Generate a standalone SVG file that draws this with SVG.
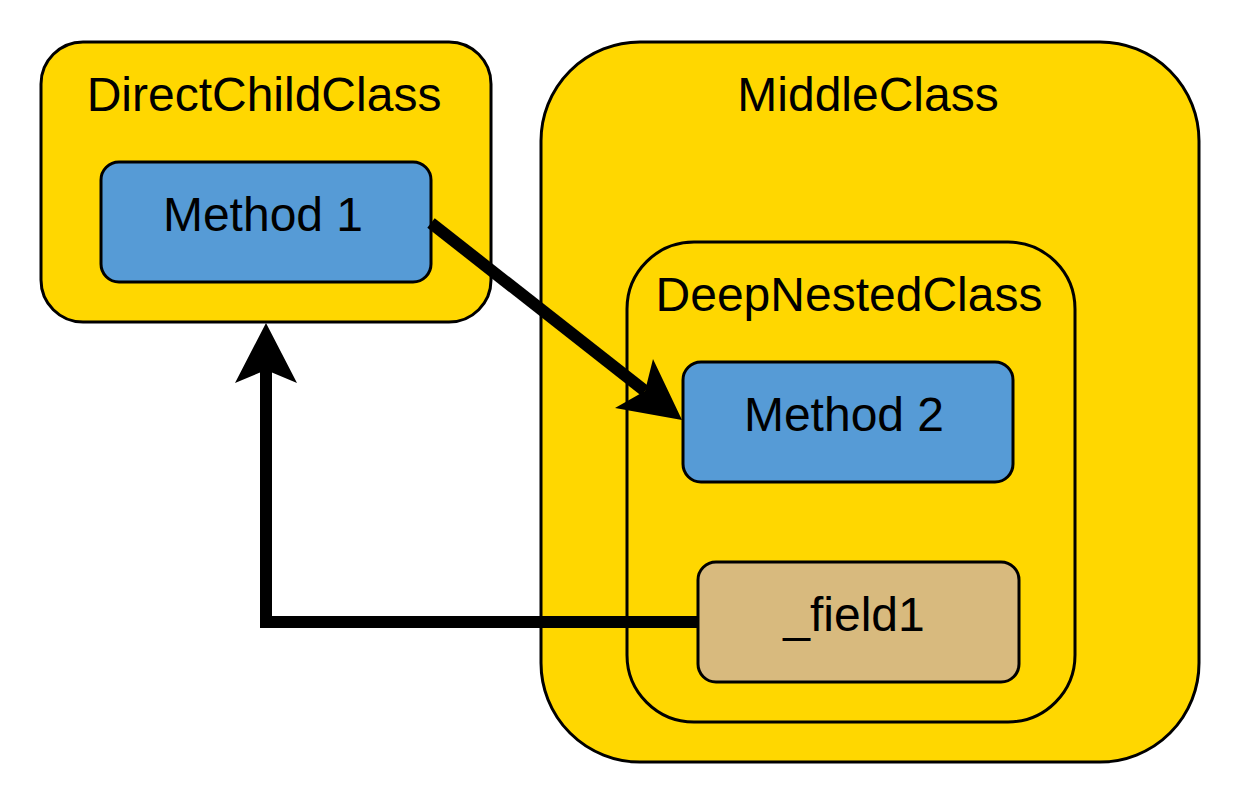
<svg xmlns="http://www.w3.org/2000/svg" width="1244" height="804" viewBox="0 0 1244 804">
<style>
.box{stroke:#000;stroke-width:3}
.cls{fill:#FFD700}
.meth{fill:#569BD6}
.fld{fill:#D8BA7E}
text{font-family:"Liberation Sans",Arial,sans-serif;font-size:48px;fill:#000;text-anchor:middle}
.conn{fill:none;stroke:#000;stroke-width:12;stroke-linejoin:miter}
</style>
<rect width="1244" height="804" fill="#fff"/>
<g id="DirectChildClass">
<rect class="box cls" x="41" y="42" width="450" height="280" rx="42" ry="42"/>
<text x="264" y="111">DirectChildClass</text>
</g>
<g id="Method1">
<rect class="box meth" x="101" y="162" width="330" height="120" rx="18" ry="18"/>
<text x="263" y="231">Method 1</text>
</g>
<g id="MiddleClass">
<rect class="box cls" x="541" y="42" width="658" height="720" rx="99" ry="99"/>
<text x="868" y="111">MiddleClass</text>
</g>
<g id="DeepNestedClass">
<rect class="box cls" x="627" y="242" width="448" height="480" rx="67" ry="67"/>
<text x="849" y="311">DeepNestedClass</text>
</g>
<g id="Method2">
<rect class="box meth" x="683" y="362" width="330" height="120" rx="18" ry="18"/>
<text x="844" y="431">Method 2</text>
</g>
<g id="field1">
<rect class="box fld" x="698" y="562" width="321" height="120" rx="18" ry="18"/>
<text x="854" y="631">_field1</text>
</g>
<g id="connectors">
<path class="conn" d="M431,223 L645,391"/>
<polygon points="682,420 615,408 645,391 653,359" fill="#000"/>
<path class="conn" d="M698,622 L266,622 L266,368"/>
<polygon points="266,323 297,383 266,370 235,383" fill="#000"/>
</g>
</svg>
